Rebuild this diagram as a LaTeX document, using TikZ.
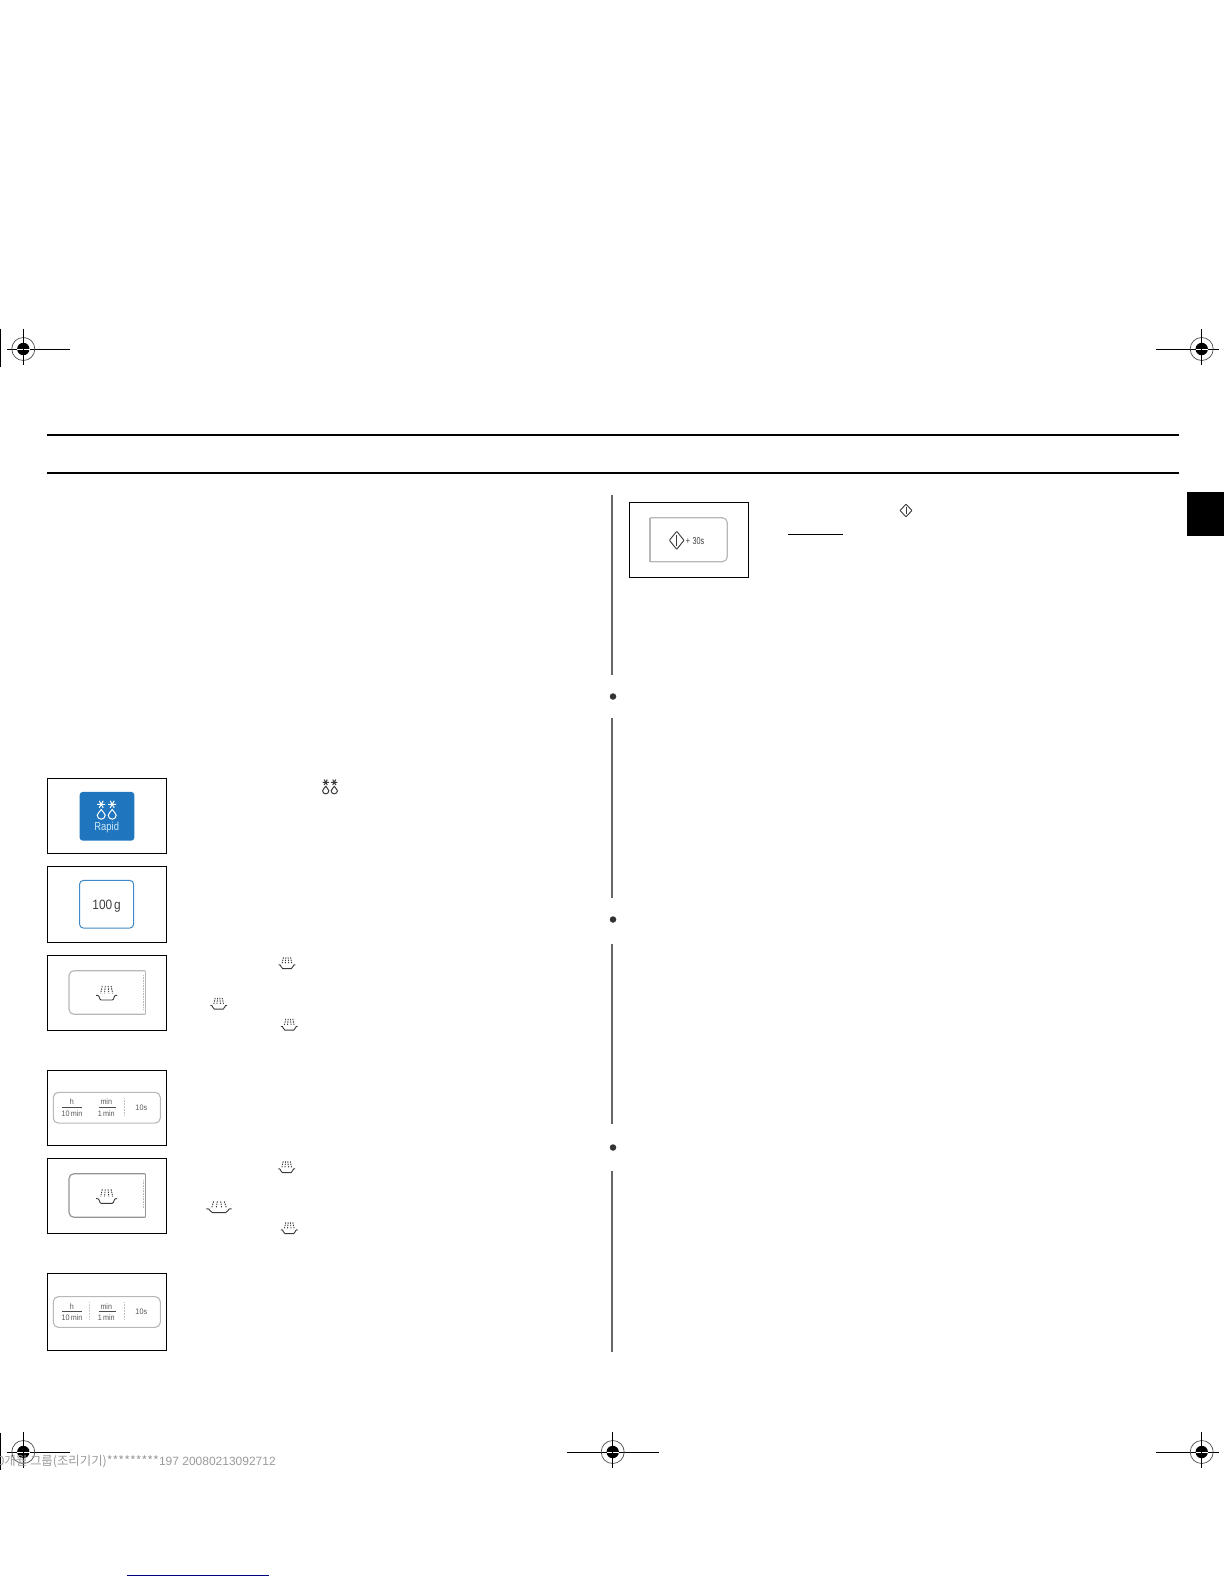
\documentclass[tikz,border=0pt]{standalone}
\usepackage{xcolor}
\usepackage{fontspec}
\setmainfont{Liberation Sans}
\newfontfamily\cjk{Noto Sans CJK KR}
\usetikzlibrary{positioning,arrows.meta,shapes.geometric}
\definecolor{rapidblue}{HTML}{1F75BE}
\definecolor{rapidtext}{HTML}{CDEBFA}
\definecolor{panelgray}{HTML}{B8B8B8}
\definecolor{icongray}{HTML}{3A3A3A}
\definecolor{stampgray}{HTML}{9A9A9A}
\tikzset{
  regmark/.pic={
    \draw[black!70, line width=.7pt] (0,0) circle (11.5);
    \fill (0,0) circle (6.2);
    \draw[white, line width=.8pt] (-6.2,0) -- (6.2,0);
    \draw[line width=1pt] (0,-20) -- (0,16);
  },
  steamicon/.pic={
    \draw[icongray, line width=.9pt, dash pattern=on 1.4pt off 1pt] (-4.4,-6.7) -- (-6,.7) (-1.4,-6.7) -- (-2.2,.7) (1.4,-6.7) -- (2.2,.7) (4.4,-6.7) -- (6,.7);
    \draw[icongray, line width=.9pt] (-10.5,2.6) -- (-8.6,2.8) .. controls (-7,3.2) and (-7.5,7.3) .. (-5.5,7.3) -- (5.5,7.3) .. controls (7.5,7.3) and (7,3.2) .. (8.6,2.8) -- (10.5,2.6);
  },
  rapidicon/.pic={
    \draw[#1, line width=1pt] (-9.5,-5.7) -- (-1.5,-5.7) (-7.5,-9.2) -- (-3.5,-2.2) (-7.5,-2.2) -- (-3.5,-9.2);
    \draw[#1, line width=1pt] (1.5,-5.7) -- (9.5,-5.7) (3.5,-9.2) -- (7.5,-2.2) (3.5,-2.2) -- (7.5,-9.2);
    \draw[#1, line width=1pt] (-5.5,-.5) .. controls (-6.5,2) and (-9.5,3) .. (-9.5,5.2) arc[start angle=180, end angle=0, radius=4] .. controls (-1.5,3) and (-4.5,2) .. cycle;
    \draw[#1, line width=1pt] (5.5,-.5) .. controls (4.5,2) and (1.5,3) .. (1.5,5.2) arc[start angle=180, end angle=0, radius=4] .. controls (9.5,3) and (6.5,2) .. cycle;
  },
  starticon/.pic={
    \draw[icongray, line width=.9pt, rounded corners=.6pt] (-7.3,0) -- (0,-9) -- (7.3,0) -- (0,9) -- cycle;
    \draw[icongray, line width=.9pt] (0,-5.5) -- (0,5.5);
  },
}
\begin{document}
\begin{tikzpicture}[x=1pt, y=-1pt, framebox/.style={draw=black, line width=1.3pt, fill=white, minimum width=119.4pt, inner sep=0pt}, timelabel/.style={font=\fontsize{8}{8}\selectfont, text=black!65, xscale=.9, inner sep=0pt}, sidebar/.style={draw=black!60, line width=1.7pt}, pagerule/.style={draw=black, line width=2pt}, sidedot/.style={circle, fill=black!80, minimum size=6.5pt, inner sep=0pt}, timepanel/.style={draw=panelgray, line width=1.1pt, rounded corners=5pt, minimum width=107pt, minimum height=30.7pt, inner sep=0pt}]
\useasboundingbox (0,0) rectangle (1224,1584);
% header rules and tab
\draw[pagerule] (46.5,434.5) -- (1178.5,434.5);
\draw[pagerule] (46.5,472.5) -- (1178.5,472.5);
\node[fill=black, minimum width=37.4pt, minimum height=44pt, inner sep=0pt] (tab) at (1205.3,514) {};
% column rule
\draw[sidebar] (612,495) -- (612,675);
\node[sidedot] (dota) at (613,696.5) {};
\draw[sidebar] (612,718) -- (612,898);
\node[sidedot] (dotb) at (613,919.5) {};
\draw[sidebar] (612,943.5) -- (612,1124);
\node[sidedot] (dotc) at (613,1147.5) {};
\draw[sidebar] (612,1170.5) -- (612,1352);
% step boxes
\node[framebox, minimum height=75pt] (rapid) at (107,815.8) {};
\node[framebox, minimum height=75.6pt] (weight) at (107,904.5) {};
\node[framebox, minimum height=75pt] (steama) at (107,992.8) {};
\node[framebox, minimum height=75.4pt] (timea) at (107,1108) {};
\node[framebox, minimum height=75pt] (steamb) at (107,1195.8) {};
\node[framebox, minimum height=77pt] (timeb) at (107,1311.8) {};
\node[framebox, minimum height=75.4pt] (start) at (689,540) {};
% rapid button
\node[fill=rapidblue, rounded corners=3pt, minimum width=54.6pt, minimum height=48.7pt, inner sep=0pt] (rapidkey) at (107,816.3) {};
\pic at (106.7,810) {rapidicon=white};
\node[text=rapidtext, font=\fontsize{11.5}{12}\selectfont, xscale=.82, inner sep=0pt] (rapidlabel) at (106.7,827.5) {Rapid};
\pic[scale=.78] at (330,786.7) {rapidicon=icongray};
% weight button
\node[draw=rapidblue!85, fill=white, line width=1pt, rounded corners=4pt, minimum width=54.2pt, minimum height=47.7pt, inner sep=0pt] (weightkey) at (106.6,904.2) {};
\node[font=\fontsize{13.5}{14}\selectfont, text=black!75, xscale=.88, inner sep=0pt] (weightlabel) at (106.6,905.8) {100\,g};
% steam buttons
\draw[panelgray, line width=1.2pt, rounded corners=5pt] (145.3,970.7) -- (69,970.7) -- (69,1014.3) -- (145.3,1014.3);
\draw[panelgray, line width=1.2pt] (145.3,970.7) -- (145.3,1014.3);
\draw[panelgray, line width=.6pt, densely dotted] (143.3,975) -- (143.3,1010);
\pic at (106.7,992.7) {steamicon};
\draw[black!42, line width=1.2pt, rounded corners=5pt] (145.3,1173.7) -- (69,1173.7) -- (69,1217.3) -- (145.3,1217.3);
\draw[black!42, line width=1.2pt] (145.3,1173.7) -- (145.3,1217.3);
\draw[panelgray, line width=.6pt, densely dotted] (143.3,1180) -- (143.3,1208);
\pic at (106.7,1196) {steamicon};
% small steam icons
\pic[scale=.8] at (287,962.7) {steamicon};
\pic[scale=.8] at (218.7,1003.3) {steamicon};
\pic[scale=.8] at (289.3,1024.3) {steamicon};
\pic[scale=.8] at (286.7,1166.7) {steamicon};
\pic[xscale=1.2, yscale=.8] at (219,1206.7) {steamicon};
\pic[scale=.8] at (289.3,1227.7) {steamicon};
% time panels
\node[timepanel] (panela) at (106.8,1107.7) {};
\node[timelabel] (houra) at (72,1101.8) {h};
\node[timelabel] (tenmina) at (72,1113.5) {10\,min};
\draw[black!70, line width=.7pt] (62,1107.4) -- (82,1107.4);
\node[timelabel] (mina) at (106.3,1101.8) {min};
\node[timelabel] (onemina) at (106.3,1113.5) {1\,min};
\draw[black!70, line width=.7pt] (99,1107.4) -- (116,1107.4);
\draw[black!25, line width=.5pt, densely dotted] (124.3,1098) -- (124.3,1116);
\node[timelabel] (tensa) at (141.3,1107.7) {10s};
\node[timepanel] (panelb) at (106.8,1312) {};
\node[timelabel] (hourb) at (72,1306.1) {h};
\node[timelabel] (tenminb) at (72,1317.8) {10\,min};
\draw[black!70, line width=.7pt] (62,1311.7) -- (82,1311.7);
\node[timelabel] (minb) at (106.3,1306.1) {min};
\node[timelabel] (oneminb) at (106.3,1317.8) {1\,min};
\draw[black!70, line width=.7pt] (99,1311.7) -- (116,1311.7);
\draw[black!20, line width=.5pt, densely dotted] (89.3,1302.3) -- (89.3,1320.3);
\draw[black!25, line width=.5pt, densely dotted] (124.3,1302.3) -- (124.3,1320.3);
\node[timelabel] (tensb) at (141.3,1312) {10s};
% start button
\draw[panelgray, line width=1.2pt, rounded corners=5pt] (650,517.7) -- (727.3,517.7) -- (727.3,561.7) -- (650,561.7);
\draw[panelgray, line width=1.2pt] (650,517.7) -- (650,561.7);
\pic at (676.7,540.3) {starticon};
\node[font=\fontsize{10}{10}\selectfont, text=black!75, xscale=.72, inner sep=0pt] (plusthirty) at (695,541) {+\,\,30s};
\pic[xscale=.82, yscale=.7] at (906,510.5) {starticon};
\draw[black, line width=1pt] (788,534) -- (843,534);
% registration marks
\draw[line width=1pt] (7,349) -- (70,349);
\pic at (23.3,349) {regmark};
\draw[line width=1pt] (1156,349) -- (1219,349);
\pic at (1201.7,349) {regmark};
\draw[line width=1pt] (7,1452) -- (70,1452);
\pic at (23.3,1452) {regmark};
\draw[line width=1pt] (567,1452) -- (659,1452);
\pic at (612.7,1452) {regmark};
\draw[line width=1pt] (1156,1452) -- (1219,1452);
\pic at (1201.7,1452) {regmark};
\draw[line width=1.3pt] (.5,329) -- (.5,367);
\draw[line width=1.3pt] (.5,1433) -- (.5,1470);
% stamp
\node[anchor=base east, text=stampgray, font=\fontsize{12}{12}\selectfont, inner sep=0pt] (stamp) at (276,1465) {{\cjk\fontsize{12.4}{12}\selectfont 0개월 그룹(조리기기)*********}197 20080213092712};
\draw[draw=blue!50!black, line width=1pt] (127,1575) -- (269,1575);
\end{tikzpicture}
\end{document}
